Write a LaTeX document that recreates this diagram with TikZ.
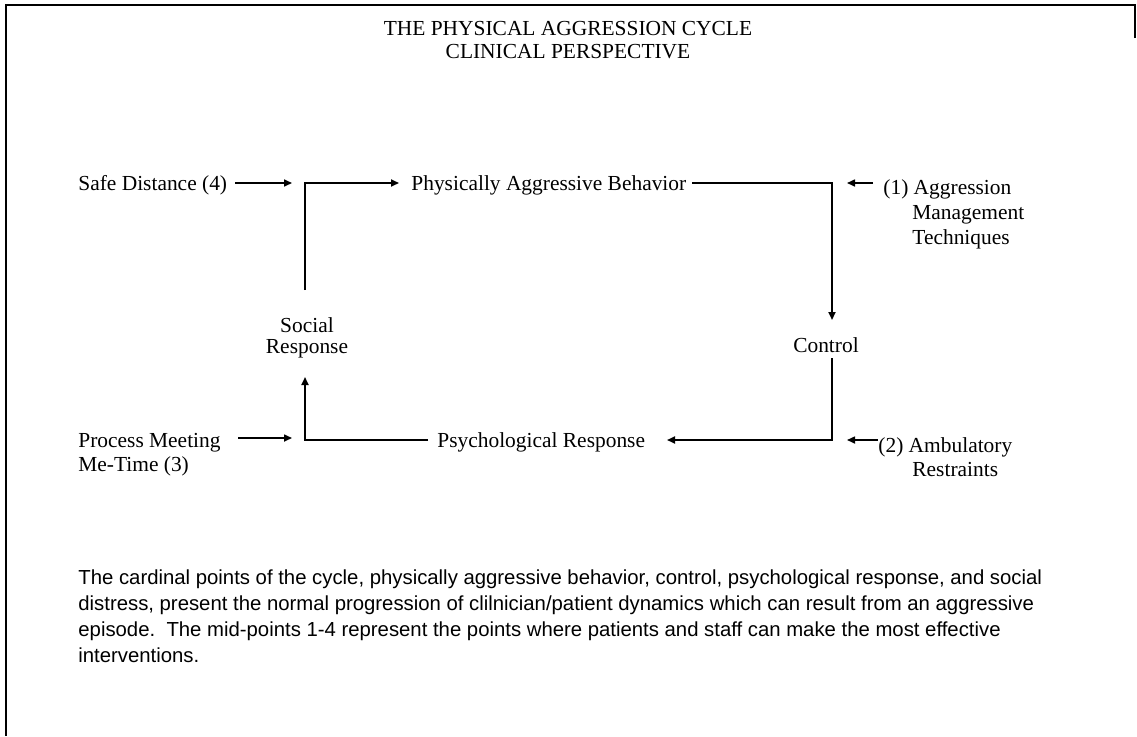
\documentclass[tikz,border=0pt]{standalone}
\usepackage{fontspec}
\setmainfont{Liberation Serif}
\newfontfamily\parafont{Liberation Sans}
\usetikzlibrary{arrows.meta}
\begin{document}
\begin{tikzpicture}[x=0.5bp,y=-0.5bp,
  lbl/.style={font=\fontsize{10.75}{12.5}\selectfont, inner sep=0pt, anchor=base west},
  clbl/.style={font=\fontsize{10.75}{12.5}\selectfont, inner sep=0pt, anchor=base},
  para/.style={font=\parafont\fontsize{10.2}{13}\selectfont, inner sep=0pt, anchor=base west},
  conn/.style={line width=0.9bp},
  arr/.style={line width=0.8bp, -{Triangle[length=4bp,width=3.5bp]}},
  frame/.style={line width=1.1bp}]
\useasboundingbox (0,0) rectangle (1137,736);
% frame
\coordinate (fr1) at (1135,38);
\coordinate (fr2) at (1135,5);
\coordinate (fr3) at (6,5);
\coordinate (fr4) at (6,736);
\draw[frame] (fr1) -- (fr2) -- (fr3) -- (fr4);
% title
\node[clbl] (t1) at (568,35) {THE PHYSICAL AGGRESSION CYCLE};
\node[clbl] (t2) at (568,58) {CLINICAL PERSPECTIVE};
% labels
\node[lbl] (sd) at (78,190) {Safe Distance (4)};
\node[lbl] (pab) at (411,190) {Physically Aggressive Behavior};
\node[lbl] (a1) at (883,194) {(1) Aggression};
\node[lbl] (a1b) at (912,219) {Management};
\node[lbl] (a1c) at (912,244) {Techniques};
\node[clbl] (ctl) at (826,352) {Control};
\node[clbl] (sr1) at (307,332) {Social};
\node[clbl] (sr2) at (307,353) {Response};
\node[lbl] (pm) at (78,447) {Process Meeting};
\node[lbl] (pm2) at (78,471) {Me-Time (3)};
\node[lbl] (psy) at (437,447) {Psychological Response};
\node[lbl] (a2) at (878,452) {(2) Ambulatory};
\node[lbl] (a2b) at (912,476) {Restraints};
% cycle coordinates
\coordinate (srtop) at (305,290);
\coordinate (tl) at (305,183);
\coordinate (pabin) at (399,183);
\coordinate (pabout) at (692,183);
\coordinate (tr) at (832,183);
\coordinate (ctlin) at (832,320);
\coordinate (ctlout) at (832,358);
\coordinate (br) at (832,440);
\coordinate (psyin) at (667,440);
\coordinate (psyout) at (428,440);
\coordinate (bl) at (305,440);
\coordinate (srin) at (305,377);
% cycle
\draw[conn,-{Triangle[length=4bp,width=3.5bp]}] (srtop) -- (tl) -- (pabin);
\draw[conn,-{Triangle[length=4bp,width=3.5bp]}] (pabout) -- (tr) -- (ctlin);
\draw[conn,-{Triangle[length=4bp,width=3.5bp]}] (ctlout) -- (br) -- (psyin);
\draw[conn,-{Triangle[length=4bp,width=3.5bp]}] (psyout) -- (bl) -- (srin);
% mid-point arrows
\coordinate (sdend) at (292,183);
\coordinate (a1end) at (847,183);
\coordinate (pmstart) at (238,438);
\coordinate (pmend) at (292,438);
\coordinate (a2end) at (847,440);
\draw[arr] ([xshift=4bp]sd.east |- sdend) -- (sdend);
\draw[arr] ([xshift=-5bp]a1.west |- a1end) -- (a1end);
\draw[arr] (pmstart) -- (pmend);
\draw[arr] (a2.west |- a2end) -- (a2end);
% paragraph
\node[para] (p1) at (78,584) {The cardinal points of the cycle, physically aggressive behavior, control, psychological response, and social};
\node[para] (p2) at (78,610) {distress, present the normal progression of clilnician/patient dynamics which can result from an aggressive};
\node[para] (p3) at (78,636) {episode.\ \ The mid-points 1-4 represent the points where patients and staff can make the most effective};
\node[para] (p4) at (78,662) {interventions.};
\end{tikzpicture}
\end{document}
